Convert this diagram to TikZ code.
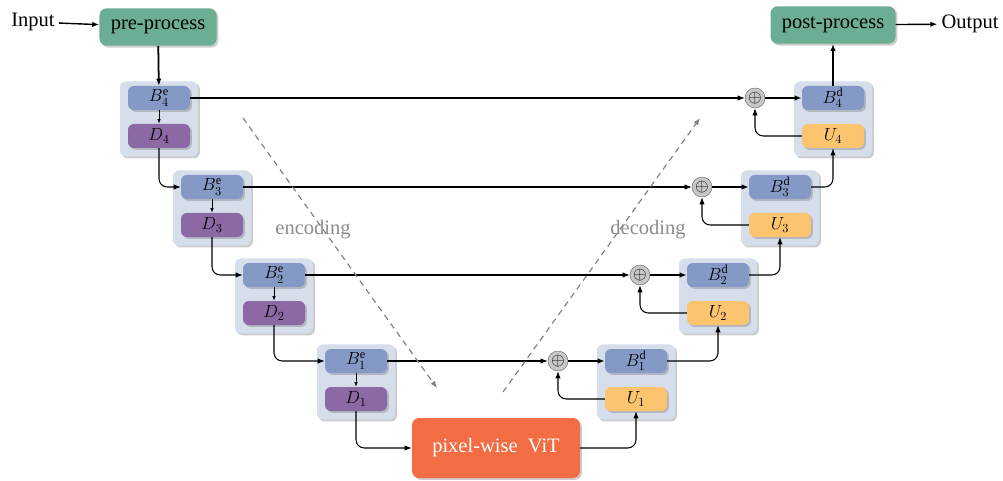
\RequirePackage{fix-cm}
\documentclass[tikz,border=0pt]{standalone}
\usepackage{fontspec}
\setmainfont{Liberation Serif}
\usetikzlibrary{arrows.meta, shadows}

\definecolor{panelbg}{RGB}{214,221,235}
\definecolor{encblue}{RGB}{133,153,198}
\definecolor{downpur}{RGB}{140,104,164}
\definecolor{uporange}{RGB}{253,196,112}
\definecolor{procgreen}{RGB}{108,174,147}
\definecolor{vitred}{RGB}{242,108,68}

\begin{document}
\begin{tikzpicture}[x=0.03cm, y=-0.03cm, >={Latex[length=6pt, width=4.6pt]},
  font=\fontsize{17.5}{20}\selectfont,
  shad/.style={drop shadow={shadow xshift=1.6pt, shadow yshift=-1.6pt, opacity=.4}},
  panel/.style={fill=panelbg, rounded corners=5pt, minimum width=2.34cm, minimum height=2.25cm, shad},
  blk/.style={rounded corners=5pt, minimum width=1.86cm, minimum height=0.72cm, inner sep=0pt,
    font=\fontsize{15}{17}\selectfont, shad},
  bblk/.style={blk, fill=encblue},
  dblk/.style={blk, fill=downpur},
  ublk/.style={blk, fill=uporange},
  proc/.style={fill=procgreen, rounded corners=6pt, minimum height=1.12cm, shad},
  sum/.style={circle, draw=black!60, fill=black!22, minimum size=0.6cm, inner sep=0pt, font=\fontsize{15}{15}\selectfont},
  conn/.style={->, line width=0.9pt, rounded corners=7pt},
  bold/.style={->, line width=1.5pt},
  dir/.style={->, dashed, black!50, line width=1pt, dash pattern=on 5pt off 4pt},
  dirlab/.style={text=black!45}]
\useasboundingbox (0,0) rectangle (1003,481);

%% ===================== in / out =====================
\node (in) at (33,22) {Input};
\node[proc, minimum width=3.51cm] (pre) at (158,27) {pre-process};
\node[proc, minimum width=3.75cm] (post) at (833,25) {post-process};
\node (out) at (970,24) {Output};
\draw[conn, line width=1.2pt] (in) -- (pre);
\draw[conn, line width=1.2pt] (post) -- (out);

%% ===================== encoder =====================
\foreach \i/\x/\y in {4/159/98, 3/212/187, 2/274/275, 1/356/361}{
  \node[panel] (pe\i) at (\x,\y+21) {};
  \node[bblk] (be\i) at (\x,\y) {$B_{\i}^{\mathrm{e}}$};
  \node[dblk] (d\i) at (\x,\y+38) {$D_{\i}$};
  \draw[->, >={Latex[length=4pt, width=3pt]}, line width=0.6pt] (be\i) -- (d\i);
}

%% ===================== decoder =====================
\foreach \i/\x/\y/\s in {1/636/361/558, 2/718/275/640, 3/780/187/702, 4/833/98/755}{
  \node[panel] (pd\i) at (\x,\y+21) {};
  \node[bblk] (bd\i) at (\x,\y) {$B_{\i}^{\mathrm{d}}$};
  \node[ublk] (u\i) at (\x,\y+38) {$U_{\i}$};
  \node[sum] (s\i) at (\s,\y) {$\oplus$};
}

\node[fill=vitred, text=white, rounded corners=6pt, minimum width=5.04cm, minimum height=1.8cm, shad]
  (vit) at (496,448) {pixel-wise\ \ ViT};

%% ===================== connectors =====================
\draw[bold] (pre) -- (be4);
\draw[bold] (bd4) -- (post);
\draw[conn] (d4.south) |- (be3.west);
\draw[conn] (d3.south) |- (be2.west);
\draw[conn] (d2.south) |- (be1.west);
\draw[conn] (d1.south) |- (vit.west);
\draw[conn] (vit.east) -| (u1.south);
\foreach \i in {1,...,4}{
  \draw[conn] (be\i) -- (s\i);
  \draw[bold] (s\i) -- (bd\i);
  \draw[conn] (u\i.west) -| (s\i.south);
}
\draw[conn] (bd1.east) -| (u2.south);
\draw[conn] (bd2.east) -| (u3.south);
\draw[conn] (bd3.east) -| (u4.south);

%% ===================== direction hints =====================
\coordinate (enc0) at (243,118);
\coordinate (enc1) at (437,388);
\coordinate (dec0) at (503,392);
\coordinate (dec1) at (700,118);
\draw[dir] (enc0) -- (enc1);
\draw[dir] (dec0) -- (dec1);
\node[dirlab] (enclab) at (313,230) {encoding};
\node[dirlab] (declab) at (648,230) {decoding};

\end{tikzpicture}
\end{document}
